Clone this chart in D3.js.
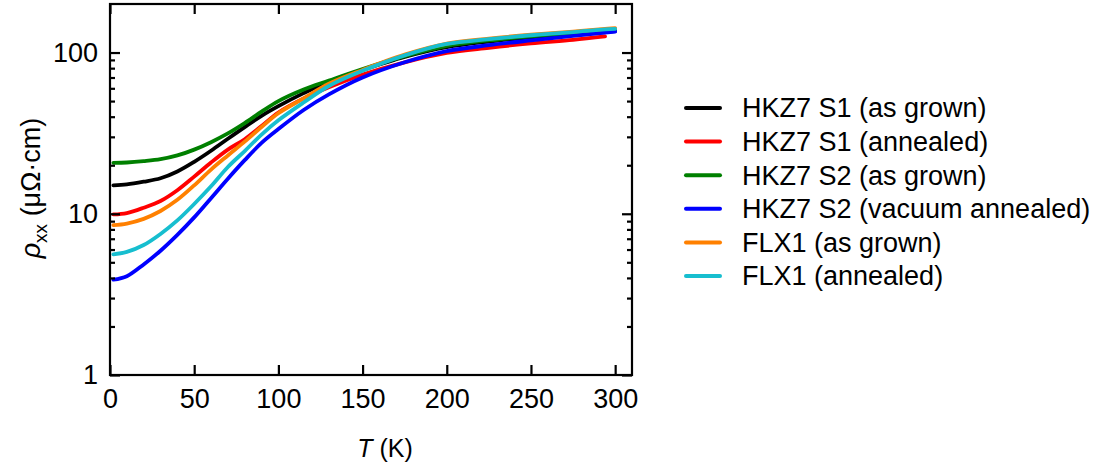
<!DOCTYPE html>
<html>
<head>
<meta charset="utf-8">
<script src="https://cdn.jsdelivr.net/npm/d3@7"></script>
<style>
  body { margin: 0; background: #fff; }
  text { font-family: "Liberation Sans", Arial, sans-serif; fill: #000; }
</style>
</head>
<body>
<div id="chart"></div>
<script>
// temperature grid (K)
var temps = [2, 10, 20, 30, 40, 50, 60, 70, 80, 90, 100, 115, 130, 150, 175, 200, 225, 250, 275, 294, 300];

// rho_xx (µΩ·cm)
var hkz7S1AsGrown  = [15.0, 15.2, 15.8, 16.6, 18.3, 21.0, 24.6, 29.2, 34.5, 40.5, 46.5, 56, 66, 78, 94, 108, 117, 124, 130, 134, 136];
var hkz7S1Annealed = [9.9, 10.1, 10.9, 12.0, 14.0, 17.0, 20.8, 25.0, 29.0, 35.0, 42.5, 52, 61, 73, 87, 99.5, 107, 114, 120, 126, null];
var hkz7S2AsGrown  = [20.7, 20.8, 21.2, 21.8, 23.0, 25.0, 27.8, 31.5, 36.5, 43, 50, 59, 67, 79, 95, 110, 119, 126, 132, 136, 138];
var hkz7S2Vacuum   = [3.9, 4.1, 4.85, 5.9, 7.4, 9.5, 12.5, 16.5, 21.5, 27.5, 33.5, 44, 55, 70, 87, 102, 111, 119, 127, 133, 135];
var flx1AsGrown    = [8.5, 8.7, 9.3, 10.4, 12.2, 15.0, 18.8, 23.0, 28.0, 34.5, 42, 52, 64, 78, 97, 113.5, 122, 129, 135, 140, 141.5];
var flx1Annealed   = [5.6, 5.8, 6.4, 7.5, 9.1, 11.5, 14.8, 19.5, 24.5, 31, 38, 49, 62, 77, 96, 113, 121, 128, 134, 139, 140];

var seriesNames  = ["HKZ7 S1 (as grown)", "HKZ7 S1 (annealed)", "HKZ7 S2 (as grown)",
                    "HKZ7 S2 (vacuum annealed)", "FLX1 (as grown)", "FLX1 (annealed)"];
var seriesColors = ["#000000", "#ff0000", "#008000", "#0000ff", "#ff8000", "#17becf"];
var seriesValues = [hkz7S1AsGrown, hkz7S1Annealed, hkz7S2AsGrown, hkz7S2Vacuum, flx1AsGrown, flx1Annealed];

var xTicks = [0, 50, 100, 150, 200, 250, 300];
var yMajor = [1, 10, 100];
var yMinor = [2, 3, 4, 5, 6, 7, 8, 9, 20, 30, 40, 50, 60, 70, 80, 90];

var width = 1102, height = 468;
var margin = {top: 4, right: 470, bottom: 93, left: 110};
var plotW = width - margin.left - margin.right,
    plotH = height - margin.top - margin.bottom;

var svg = d3.select("#chart").append("svg")
    .attr("width", width)
    .attr("height", height);

var x = d3.scaleLinear().domain([0, 310]).range([margin.left, margin.left + plotW]);
var y = d3.scaleLog().domain([1, 200]).range([margin.top + plotH, margin.top]);

// curves
var line = d3.line()
    .defined(function(d) { return d.v != null; })
    .x(function(d) { return x(d.t); })
    .y(function(d) { return y(d.v); })
    .curve(d3.curveCatmullRom.alpha(0.5));

seriesValues.forEach(function(vals, i) {
    var pts = temps.map(function(t, j) { return {t: t, v: vals[j]}; });
    svg.append("path")
        .datum(pts)
        .attr("fill", "none")
        .attr("stroke", seriesColors[i])
        .attr("stroke-width", 3.8)
        .attr("stroke-linecap", "round")
        .attr("d", line);
});

// axes, ticks inward
var fontSize = "27px";
var axBottom = svg.append("g")
    .attr("transform", "translate(0," + (margin.top + plotH) + ")")
    .call(d3.axisBottom(x).tickValues(xTicks).tickSize(-10).tickPadding(14).tickFormat(d3.format("d")));
var axTop = svg.append("g")
    .attr("transform", "translate(0," + margin.top + ")")
    .call(d3.axisTop(x).tickValues(xTicks).tickSize(-10).tickFormat(""));
var axLeft = svg.append("g")
    .attr("transform", "translate(" + margin.left + ",0)")
    .call(d3.axisLeft(y).tickValues(yMajor).tickSize(-10).tickPadding(12).tickFormat(d3.format("d")));
var axLeftMinor = svg.append("g")
    .attr("transform", "translate(" + margin.left + ",0)")
    .call(d3.axisLeft(y).tickValues(yMinor).tickSize(-5).tickFormat(""));
var axRight = svg.append("g")
    .attr("transform", "translate(" + (margin.left + plotW) + ",0)")
    .call(d3.axisRight(y).tickValues(yMajor).tickSize(-10).tickFormat(""));
var axRightMinor = svg.append("g")
    .attr("transform", "translate(" + (margin.left + plotW) + ",0)")
    .call(d3.axisRight(y).tickValues(yMinor).tickSize(-5).tickFormat(""));

[axBottom, axTop, axLeft, axLeftMinor, axRight, axRightMinor].forEach(function(g) {
    g.select(".domain").remove();
    g.selectAll(".tick line").attr("stroke", "#000").attr("stroke-width", 2.2);
    g.selectAll(".tick text").style("font-size", fontSize)
        .style("font-family", "'Liberation Sans', Arial, sans-serif").attr("fill", "#000");
});

svg.append("rect")
    .attr("x", margin.left)
    .attr("y", margin.top)
    .attr("width", plotW)
    .attr("height", plotH)
    .attr("fill", "none")
    .attr("stroke", "#000")
    .attr("stroke-width", 2.2);

// axis titles
var xTitle = svg.append("text")
    .attr("x", 385)
    .attr("y", 457)
    .attr("text-anchor", "middle")
    .style("font-size", "25px");
xTitle.append("tspan").style("font-style", "italic").text("T");
xTitle.append("tspan").text(" (K)");

var yTitle = svg.append("text")
    .attr("transform", "translate(40,188) rotate(-90)")
    .attr("text-anchor", "middle")
    .style("font-size", "27px");
yTitle.append("tspan").style("font-style", "italic").text("ρ");
yTitle.append("tspan").attr("dy", 7).style("font-size", "19px").text("xx");
yTitle.append("tspan").attr("dy", -7).text(" (μΩ·cm)");

// legend
var legend = svg.append("g").attr("transform", "translate(686,108)");
var rowGap = 33.6;
seriesNames.forEach(function(name, i) {
    var row = legend.append("g").attr("transform", "translate(0," + (i * rowGap) + ")");
    row.append("line")
        .attr("x1", 0).attr("x2", 34)
        .attr("y1", 0).attr("y2", 0)
        .attr("stroke", seriesColors[i])
        .attr("stroke-width", 4)
        .attr("stroke-linecap", "round");
    row.append("text")
        .attr("x", 56)
        .attr("y", 0)
        .attr("dy", "0.35em")
        .style("font-size", "27px")
        .text(name);
});
</script>
</body>
</html>
